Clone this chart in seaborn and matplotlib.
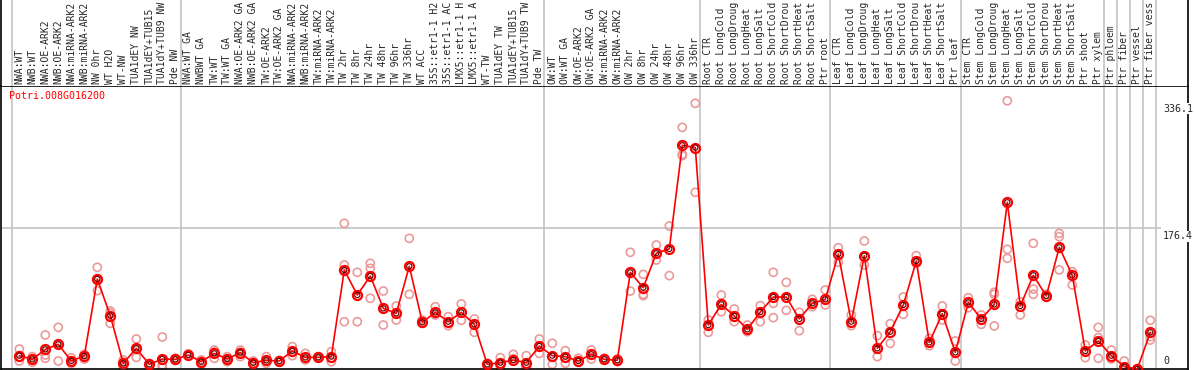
import numpy as np
import pandas as pd
import matplotlib
matplotlib.use("Agg")
import matplotlib.pyplot as plt
import matplotlib.transforms as mtransforms
import seaborn as sns

# ==============================
# DATA
# ==============================
gene = "Potri.008G016200"

# sample names as far as they are visible in the header
labels = [
    "NWA:WT", "NWB:WT", "NWA:OE-ARK2", "NWB:OE-ARK2", "NWA:miRNA-ARK2",
    "NWB:miRNA-ARK2", "NW 0hr", "WT H2O", "WT-NW", "TUA1dEY NW",
    "TUA1dEY+TUB15", "TUA1dY+TUB9 NW", "Pde NW",
    "NWA:WT GA", "NWBWT GA", "TW:WT", "TW:WT GA", "NWA:OE-ARK2 GA",
    "NWB:OE-ARK2 GA", "TW:OE-ARK2", "TW:OE-ARK2 GA", "NWA:miRNA-ARK2",
    "NWB:miRNA-ARK2", "TW:miRNA-ARK2", "TW:miRNA-ARK2", "TW 2hr", "TW 8hr",
    "TW 24hr", "TW 48hr", "TW 96hr", "TW 336hr", "WT ACC",
    "35S::etr1-1 H2", "35S::etr1-1 AC", "LMX5::etr1-1 H",
    "LMX5::etr1-1 A", "WT-TW", "TUA1dEY TW", "TUA1dEY+TUB15",
    "TUA1dY+TUB9 TW", "Pde TW",
    "OW:WT", "OW:WT GA", "OW:OE-ARK2", "OW:OE-ARK2 GA", "OW:miRNA-ARK2",
    "OW:miRNA-ARK2", "OW 2hr", "OW 8hr", "OW 24hr", "OW 48hr", "OW 96hr",
    "OW 336hr",
    "Root CTR", "Root LongCold", "Root LongDroug", "Root LongHeat",
    "Root LongSalt", "Root ShortCold", "Root ShortDrou", "Root ShortHeat",
    "Root ShortSalt", "Ptr root",
    "Leaf CTR", "Leaf LongCold", "Leaf LongDroug", "Leaf LongHeat",
    "Leaf LongSalt", "Leaf ShortCold", "Leaf ShortDrou", "Leaf ShortHeat",
    "Leaf ShortSalt", "Ptr leaf",
    "Stem CTR", "Stem LongCold", "Stem LongDroug", "Stem LongHeat",
    "Stem LongSalt", "Stem ShortCold", "Stem ShortDrou", "Stem ShortHeat",
    "Stem ShortSalt", "Ptr shoot", "Ptr xylem",
    "Ptr phloem", "Ptr fiber", "Ptr vessel", "Ptr fiber vess",
]

means = [
    16.7, 12.1, 24.6, 30.9, 10.0, 16.3, 112.8, 66.8, 7.1, 25.9, 5.8, 12.5, 12.1,
    17.5, 9.2, 19.6, 12.5, 20.5, 7.9, 10.9, 10.0, 22.6, 14.6, 14.6, 15.5,
    124.0, 92.7, 116.5, 76.0, 69.8, 128.7, 58.5, 71.0, 59.3, 71.0, 56.0,
    5.8, 7.9, 11.3, 7.9, 28.8,
    16.7, 15.5, 10.0, 18.4, 12.1, 10.9, 121.1, 101.9, 145.0, 150.4, 280.3, 277.4,
    55.1, 81.0, 66.4, 49.7, 71.4, 90.2, 90.2, 62.7, 82.3, 87.3,
    144.1, 59.3, 142.0, 25.9, 46.8, 80.2, 135.3, 33.4, 69.3, 20.9,
    83.5, 62.7, 81.0, 208.9, 79.0, 117.4, 91.5, 152.5, 117.4, 22.6, 35.1,
    16.7, 2.9, 0.0, 46.0,
]

reps = [
    [25, 10, 15], [15.5, 8.4, 12], [42.6, 17.5, 13.4], [52.2, 10, 31],
    [14, 7, 9], [17.5, 12.5, 18.4], [127.4, 98.2, 113], [72.7, 57.2, 70],
    [11.3, 1.7, 8], [37.6, 14.6, 25], [7, 5, 5.5], [40.1, 5, 1.7], [13.4, 10.9],
    [19.2, 16.7], [11.3, 5.8, 10], [23.8, 13.4, 21], [15.5, 9.2, 13],
    [23.8, 15.5, 21], [10, 5.8, 8], [15.5, 7.1, 10], [10.9, 9.2], [28, 16.7],
    [19.6, 11.3], [15.5, 13.4], [21.7, 9.2], [182.5, 130.3, 59.3],
    [121.1, 59.3], [132.4, 126.1, 88.6], [97.7, 55.1], [79, 61.4],
    [163.7, 93.6], [61.4, 57.2], [78, 67.7], [65.6, 54.3], [81.5, 61],
    [62.7, 46], [7.1, 4.2], [14.2, 1.7], [18.4, 10, 13], [16.7, 2.9, 1.7],
    [37.6, 19.6],
    [32.2, 5.8], [23, 7.1], [13.4, 8.4], [23.8, 12.5], [13.4, 10.9],
    [12.5, 9.2], [146.2, 97.7], [118.6, 93.6, 91.9], [155.4, 136.6],
    [179.2, 117], [302.8, 269, 267.3], [332.9, 221.4],
    [61.4, 46], [92.7, 71.8], [75.2, 59.3], [55.1, 46.8], [79.4, 59.3],
    [121.1, 82.3, 64.3], [108.6, 73.5], [71, 48], [87.3, 78.1], [99, 80.2],
    [152, 133.7], [67.7, 54.3], [160.4, 130.3], [41.8, 15.5], [56.8, 32.2],
    [90.2, 68.5], [142, 132.4], [38.4, 29.2], [79, 61.4], [35.1, 10],
    [89.4, 76.9], [67.7, 56], [96.1, 93.6, 53.9], [336.1, 150, 138.7],
    [84.4, 67.7], [157.5, 100.2, 93.6], [93.6, 90.2], [170, 165.8, 124.1],
    [122, 105.3], [30.1, 14.2], [52.2, 39.3, 13.4],
    [23.8, 12.5], [10, 0.8], [0.5, 0], [61, 36.3, 40.5],
]

# first sample of each block (vertical separators)
group_starts = [0, 13, 41, 53, 63, 73, 84, 85, 86, 87]
ytick_vals = [336.1, 176.4, 0]
ytick_text = ["336.1", "176.4", "0"]

# ==============================
# TABLES FOR SEABORN
# ==============================
n = len(labels)
df_mean = pd.DataFrame({"pos": np.arange(n), "value": means})
df_rep = pd.DataFrame(
    [(i, v) for i, rr in enumerate(reps) for v in rr], columns=["pos", "value"]
)

# ==============================
# PLOT
# ==============================
sns.set_style("white")
plt.rcParams["font.family"] = ["DejaVu Sans Mono"]
fs = 7.0

W, H = 1194, 370
fig = plt.figure(figsize=(W / 100, H / 100), dpi=100)
ax = fig.add_axes([1 / W, 1 / H, 1187 / W, 283 / H])
hdr = fig.add_axes([1 / W, 284 / H, 1187 / W, 86 / H], sharex=ax)

xmin, xmax = (1 - 19.3) / 13, (1188 - 19.3) / 13
ymax = 354.6
ax.set_xlim(xmin, xmax)
ax.set_ylim(0, ymax)
hdr.set_ylim(0, 1)

grid_c = "#c4c4c4"
for g in group_starts + [n]:
    xg = g - 0.6
    ax.axvline(xg, color=grid_c, lw=1.2, zorder=0)
    hdr.axvline(xg, color=grid_c, lw=1.2, zorder=0)
ax.hlines(176.4, xmin, n - 0.2, color=grid_c, lw=1.2, zorder=0)

sns.scatterplot(data=df_rep, x="pos", y="value", ax=ax, marker="o",
                s=34, facecolors="none", edgecolor="#eb9a9a", linewidth=1.2,
                zorder=2, clip_on=False)
sns.lineplot(data=df_mean, x="pos", y="value", ax=ax, color="red", lw=1.2,
             marker="o", markersize=6.5, markerfacecolor="none",
             markeredgecolor="red", markeredgewidth=1.6, zorder=3,
             clip_on=False)
sns.scatterplot(data=df_mean, x="pos", y="value", ax=ax, marker="o",
                s=14, facecolors="none", edgecolor="#5a0000", linewidth=0.8,
                zorder=4, clip_on=False)

ax.text(xmin + 8.5 / 13, ymax - 6, gene, color="red", fontsize=7.2,
        ha="left", va="top")

# y labels drawn inside at the right, on top of the border line
xt = (1163 - 19.3) / 13
off = mtransforms.offset_copy(ax.transData, fig=fig, x=0, y=-3, units="dots")
off2 = mtransforms.offset_copy(ax.transData, fig=fig, x=0, y=3, units="dots")
for v, t in zip(ytick_vals, ytick_text):
    if v == 0:
        ax.text(xt, v, t, fontsize=7.2, ha="left", va="bottom", transform=off2,
                zorder=6, bbox=dict(fc="white", ec="none", pad=0.3))
    else:
        ax.text(xt, v, t, fontsize=7.2, ha="left", va="top", transform=off,
                zorder=6, bbox=dict(fc="white", ec="none", pad=0.3))

# sample labels in the header, reading upward
for i, lab in enumerate(labels):
    hdr.text(i, 0.025, lab, rotation=90, ha="center", va="bottom",
             fontsize=fs)

ax.set_xlabel("")
ax.set_ylabel("")
ax.set_xticks([])
ax.set_yticks([])
hdr.set_xticks([])
hdr.set_yticks([])
for sp in ax.spines.values():
    sp.set_color("black")
    sp.set_linewidth(1.2)
hdr.spines["top"].set_visible(False)
hdr.spines["bottom"].set_visible(False)
for s in ["left", "right"]:
    hdr.spines[s].set_color("black")
    hdr.spines[s].set_linewidth(1.2)
if ax.get_legend():
    ax.get_legend().remove()

plt.savefig("out.png", dpi=100)
